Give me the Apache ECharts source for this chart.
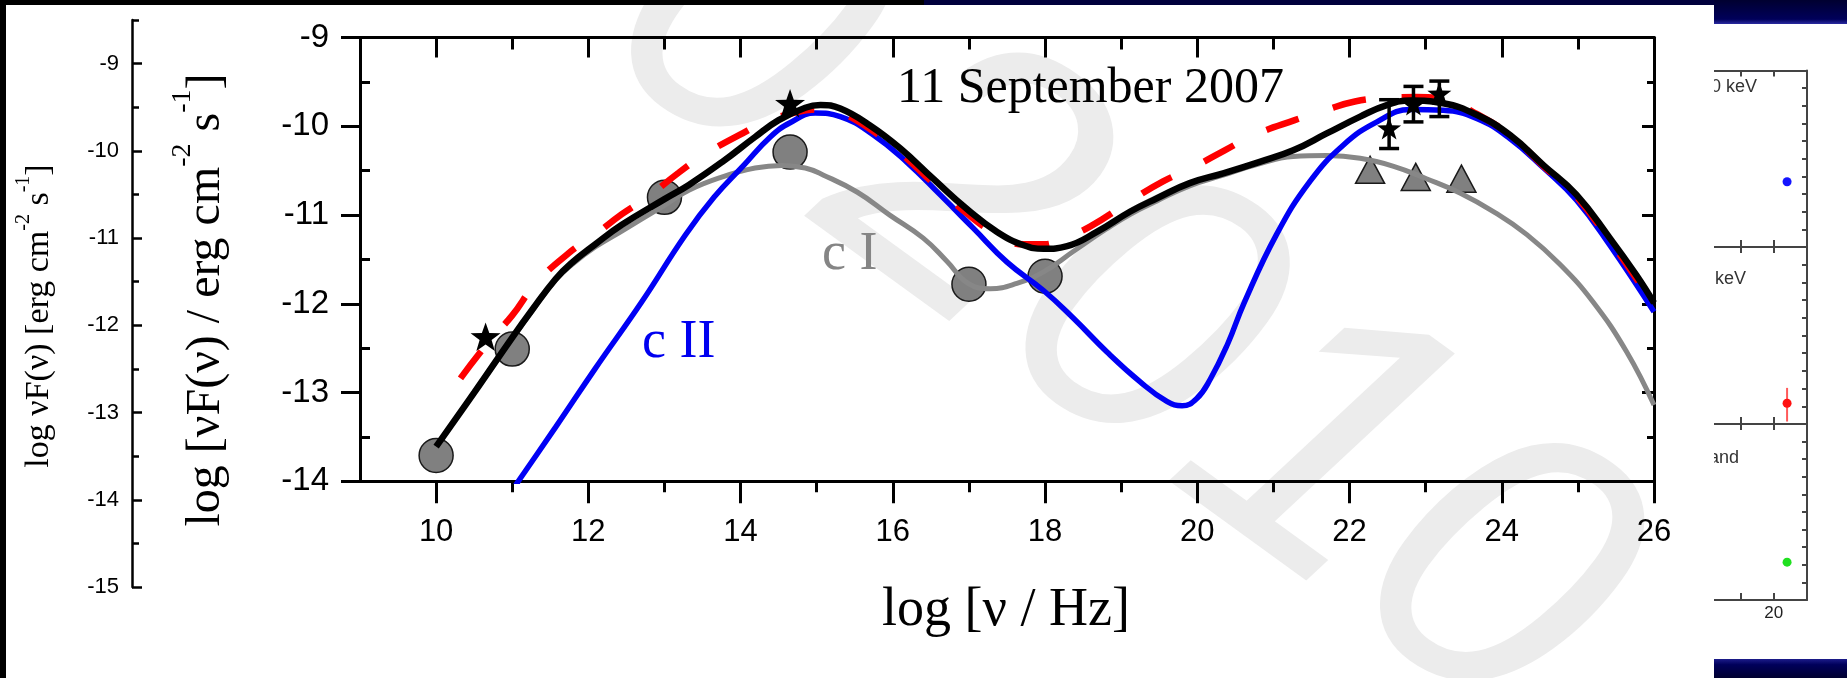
<!DOCTYPE html>
<html>
<head>
<meta charset="utf-8">
<title>SED 11 September 2007</title>
<script src="https://cdn.jsdelivr.net/npm/echarts@6/dist/echarts.min.js"></script>
<style>
html, body { margin: 0; padding: 0; background: #fff; }
#chart { width: 1847px; height: 678px; }
</style>
</head>
<body>
<div id="chart"></div>
<script>
// ---- data: x = log nu [Hz], y = log nuF(nu) ----
var totalModel = [[10.0,-13.61],[10.5,-13.0],[11.0,-12.38],[11.26,-12.07],[11.57,-11.72],[11.78,-11.54],[12.09,-11.33],[12.44,-11.11],[13.0,-10.82],[13.32,-10.66],[13.76,-10.40],[14.19,-10.12],[14.5,-9.93],[14.85,-9.79],[15.05,-9.76],[15.31,-9.80],[15.7,-9.99],[16.1,-10.25],[16.53,-10.59],[16.97,-10.93],[17.37,-11.19],[17.72,-11.34],[17.98,-11.38],[18.29,-11.35],[18.68,-11.19],[19.12,-10.96],[19.47,-10.81],[19.9,-10.64],[20.34,-10.53],[20.82,-10.40],[21.26,-10.27],[21.7,-10.08],[22.14,-9.89],[22.49,-9.76],[22.8,-9.71],[23.23,-9.74],[23.67,-9.87],[24.11,-10.1],[24.55,-10.44],[24.98,-10.77],[25.42,-11.26],[25.77,-11.68],[26.0,-11.99]];
var dashedModel = [[10.32,-12.84],[10.69,-12.43],[11.0,-12.13],[11.31,-11.77],[11.74,-11.43],[12.09,-11.22],[12.44,-10.99],[12.79,-10.79],[13.19,-10.52],[13.54,-10.31],[13.98,-10.10],[14.32,-9.95],[14.65,-9.86],[14.98,-9.81],[15.31,-9.85],[15.7,-10.03],[16.1,-10.30],[16.53,-10.64],[16.97,-10.98],[17.37,-11.22],[17.72,-11.33],[17.98,-11.33],[18.24,-11.26],[18.59,-11.13],[19.14,-10.83],[19.55,-10.62],[19.95,-10.46],[20.36,-10.27],[20.74,-10.10],[21.28,-9.93],[21.68,-9.82],[22.07,-9.72],[22.49,-9.68],[22.88,-9.67],[23.32,-9.72],[23.67,-9.86],[24.11,-10.1],[24.55,-10.45],[24.98,-10.79],[25.42,-11.29],[25.77,-11.72],[26.0,-12.03]];
var compII = [[10.9,-14.23],[11.08,-14.0],[11.57,-13.39],[12.09,-12.73],[12.7,-11.98],[13.27,-11.23],[13.65,-10.8],[14.04,-10.44],[14.39,-10.12],[14.65,-9.96],[14.98,-9.85],[15.31,-9.89],[15.75,-10.10],[16.18,-10.40],[16.62,-10.77],[17.06,-11.15],[17.5,-11.53],[17.98,-11.85],[18.37,-12.16],[18.81,-12.54],[19.25,-12.88],[19.6,-13.1],[19.8,-13.15],[19.99,-13.07],[20.17,-12.85],[20.4,-12.45],[20.61,-12.0],[21.04,-11.22],[21.48,-10.62],[21.92,-10.21],[22.36,-9.95],[22.8,-9.81],[23.23,-9.82],[23.67,-9.91],[24.11,-10.14],[24.55,-10.47],[24.98,-10.83],[25.42,-11.34],[26.0,-12.09]];
var compI = [[10.0,-13.61],[10.5,-13.0],[11.0,-12.39],[11.26,-12.08],[11.57,-11.73],[11.78,-11.56],[12.09,-11.36],[12.44,-11.18],[13.0,-10.89],[13.32,-10.72],[13.76,-10.57],[14.19,-10.47],[14.54,-10.44],[14.85,-10.47],[15.09,-10.55],[15.53,-10.74],[15.96,-11.0],[16.4,-11.26],[16.71,-11.52],[16.99,-11.77],[17.28,-11.83],[17.63,-11.77],[17.98,-11.64],[18.37,-11.41],[18.8,-11.16],[19.12,-10.99],[19.47,-10.84],[19.9,-10.67],[20.34,-10.55],[20.78,-10.43],[21.26,-10.34],[21.7,-10.33],[22.14,-10.36],[22.58,-10.45],[23.01,-10.59],[23.45,-10.75],[23.89,-10.96],[24.33,-11.22],[24.77,-11.56],[25.2,-11.98],[25.64,-12.54],[26.0,-13.14]];

var obsCircles = [[10.0,-13.71],[11.0,-12.51],[13.0,-10.80],[14.65,-10.29],[17.0,-11.78],[18.0,-11.69]];
var obsStars = [[10.65,-12.37],[14.65,-9.74]];
var obsTriangles = [[22.27,-10.49],[22.87,-10.57],[23.47,-10.59]];

// gamma-ray points with error bars
var gammaX  = [22.52, 22.84, 23.18];
var gammaY  = [-10.02, -9.75, -9.63];
var gammaLo = [-10.25, -9.95, -9.89];
var gammaHi = [-9.70, -9.55, -9.49];

// tick values
var xMajor = [10, 12, 14, 16, 18, 20, 22, 24, 26];
var xMinor = [11, 13, 15, 17, 19, 21, 23, 25];
var yMajor = [-14, -13, -12, -11, -10, -9];
var yMinor = [-13.5, -12.5, -11.5, -10.5, -9.5];
var leftMajor = [-15, -14, -13, -12, -11, -10, -9];
var leftMinor = [-14.5, -13.5, -12.5, -11.5, -10.5, -9.5, -8.5];

// cut-off panels on the right edge
var panelTicks = [19.5, 20];
var panelLabels = [20];
var panelYTicks = [1, 2, 3, 4, 5, 6, 7, 8, 9];
var panelBlue = [[20.2, 3.7]];
var panelRed = [[20.2, 1.17, 0.14, 2.04]];
var panelGreen = [[20.2, 2.15]];

var SANS = 'Liberation Sans';
var SERIF = 'Liberation Serif';
var STAR = 'path://M0,-50 L11.8,-16.2 L47.6,-15.5 L19,6.2 L29.4,40.5 L0,20 L-29.4,40.5 L-19,6.2 L-47.6,-15.5 L-11.8,-16.2 Z';

function tickAxis(grid, pos, min, max, ticks, len, inside, showLine, lineColor, lineWidth) {
    return {
        type: 'value', gridIndex: grid, position: pos, min: min, max: max,
        axisLine: { show: showLine, onZero: false, lineStyle: { color: lineColor, width: lineWidth } },
        axisTick: { show: true, inside: inside, length: len, customValues: ticks,
                    lineStyle: { color: lineColor, width: lineWidth } },
        axisLabel: { show: false },
        splitLine: { show: false },
        minorTick: { show: false }
    };
}

function errorBar(color, width, cap) {
    return function (params, api) {
        var x = api.value(0);
        var lo = api.coord([x, api.value(2)]);
        var hi = api.coord([x, api.value(3)]);
        var st = { stroke: color, lineWidth: width };
        var kids = [{ type: 'line', shape: { x1: lo[0], y1: lo[1], x2: hi[0], y2: hi[1] }, style: st }];
        if (cap > 0) {
            kids.push({ type: 'line', shape: { x1: lo[0] - cap, y1: lo[1], x2: lo[0] + cap, y2: lo[1] }, style: st });
            kids.push({ type: 'line', shape: { x1: hi[0] - cap, y1: hi[1], x2: hi[0] + cap, y2: hi[1] }, style: st });
        }
        return { type: 'group', children: kids };
    };
}

function label(text, x, y, size, family, color, align) {
    return { type: 'text', x: x, y: y, z: 10,
             style: { text: text, fontSize: size, fontFamily: family, fill: color,
                      textAlign: align, textVerticalAlign: 'middle', align: align, verticalAlign: 'middle' } };
}

function watermark(text, x, y) {
    return { type: 'text', x: x, y: y, rotation: -36 * Math.PI / 180, z: -10, silent: true,
             style: { text: text, fontSize: 394, fontFamily: SANS, fontStyle: 'italic', fill: '#ececec',
                      textAlign: 'center', textVerticalAlign: 'middle', align: 'center', verticalAlign: 'middle' } };
}

var gammaData = gammaX.map(function (x, i) { return [x, gammaY[i], gammaLo[i], gammaHi[i]]; });

// main axes
var xMain = tickAxis(0, 'bottom', 9, 26, xMajor, 22, false, true, '#000', 3);
xMain.axisLabel = { show: true, customValues: xMajor, fontSize: 31, fontFamily: SANS, color: '#000', margin: 36 };
var yMain = tickAxis(0, 'left', -14, -9, yMajor, 19, false, true, '#000', 3);
yMain.axisLabel = { show: true, customValues: yMajor, fontSize: 33, fontFamily: SANS, color: '#000', margin: 31 };
// secondary scale on the far left
var yLeft = tickAxis(1, 'left', -15, -8.5, leftMajor, 10, true, true, '#000', 2.5);
yLeft.axisLabel = { show: true, customValues: leftMajor, fontSize: 22, fontFamily: SANS, color: '#000', margin: 13 };

var xPanel3 = tickAxis(4, 'bottom', 19.1, 20.5, panelTicks, 7, true, true, '#444', 2);
xPanel3.axisLabel = { show: true, customValues: panelLabels, fontSize: 17, fontFamily: SANS, color: '#222', margin: 5 };

var navyTop = new echarts.graphic.LinearGradient(0, 0, 0, 1, [
    { offset: 0, color: '#000030' }, { offset: 0.8, color: '#00005a' }, { offset: 1, color: '#2a2aa0' }]);
var navyBottom = new echarts.graphic.LinearGradient(0, 0, 0, 1, [
    { offset: 0, color: '#1c1c8a' }, { offset: 0.3, color: '#00005a' }, { offset: 1, color: '#000030' }]);

var option = {
    backgroundColor: '#fff',
    animation: false,
    grid: [
        { left: 360, top: 37.6, width: 1294, height: 443.7, outerBoundsMode: 'none' },
        { left: 132, top: 20, width: 10, height: 567, outerBoundsMode: 'none' },
        { left: 1714, top: 70.5, width: 93, height: 176.5, outerBoundsMode: 'none' },
        { left: 1714, top: 247, width: 93, height: 177, outerBoundsMode: 'none' },
        { left: 1714, top: 424, width: 93, height: 176, outerBoundsMode: 'none' }
    ],
    xAxis: [
        xMain,
        tickAxis(0, 'bottom', 9, 26, xMinor, 11, false, false, '#000', 3),
        tickAxis(0, 'top', 9, 26, xMajor, 20, true, true, '#000', 3),
        tickAxis(0, 'top', 9, 26, xMinor, 12, true, false, '#000', 3),
        { type: 'value', gridIndex: 1, show: false, min: 0, max: 1 },
        tickAxis(2, 'bottom', 19.1, 20.5, panelTicks, 7, true, true, '#444', 2),
        tickAxis(3, 'bottom', 19.1, 20.5, panelTicks, 7, true, true, '#444', 2),
        xPanel3,
        tickAxis(2, 'top', 19.1, 20.5, panelTicks, 6, true, true, '#444', 2),
        tickAxis(3, 'top', 19.1, 20.5, panelTicks, 6, true, true, '#444', 2),
        tickAxis(4, 'top', 19.1, 20.5, panelTicks, 6, true, true, '#444', 2)
    ],
    yAxis: [
        yMain,
        tickAxis(0, 'left', -14, -9, yMinor, 10, true, false, '#000', 3),
        tickAxis(0, 'right', -14, -9, yMajor, 12, true, true, '#000', 3),
        tickAxis(0, 'right', -14, -9, yMinor, 7, true, false, '#000', 3),
        yLeft,
        tickAxis(1, 'left', -15, -8.5, leftMinor, 7, true, false, '#000', 2.5),
        tickAxis(2, 'right', 0, 10, panelYTicks, 5, true, true, '#444', 2),
        tickAxis(3, 'right', 0, 10, panelYTicks, 5, true, true, '#444', 2),
        tickAxis(4, 'right', 0, 10, panelYTicks, 5, true, true, '#444', 2)
    ],
    series: [
        { name: 'data', type: 'scatter', xAxisIndex: 0, yAxisIndex: 0, z: 1,
          symbol: 'circle', symbolSize: 34, data: obsCircles,
          itemStyle: { color: '#808080', borderColor: '#1a1a1a', borderWidth: 1.5, opacity: 1 } },
        { name: 'upper', type: 'scatter', xAxisIndex: 0, yAxisIndex: 0, z: 1,
          symbol: 'triangle', symbolSize: [29, 27], data: obsTriangles,
          itemStyle: { color: '#808080', borderColor: '#1a1a1a', borderWidth: 1.5, opacity: 1 } },
        { name: 'c I', type: 'line', xAxisIndex: 0, yAxisIndex: 0, z: 2, data: compI,
          showSymbol: false, symbol: 'none', smooth: 0.45,
          lineStyle: { color: '#878787', width: 5 } },
        { name: 'c II', type: 'line', xAxisIndex: 0, yAxisIndex: 0, z: 3, data: compII,
          showSymbol: false, symbol: 'none', smooth: 0.45,
          lineStyle: { color: '#0000f5', width: 5.5 } },
        { name: 'dashed', type: 'line', xAxisIndex: 0, yAxisIndex: 0, z: 4, data: dashedModel,
          showSymbol: false, symbol: 'none', smooth: 0.45,
          lineStyle: { color: '#ff0000', width: 6.5, type: [34, 36] } },
        { name: 'total', type: 'line', xAxisIndex: 0, yAxisIndex: 0, z: 5, data: totalModel,
          showSymbol: false, symbol: 'none', smooth: 0.45,
          lineStyle: { color: '#000', width: 6.5 } },
        { name: 'stars', type: 'scatter', xAxisIndex: 0, yAxisIndex: 0, z: 6,
          symbol: STAR, symbolSize: 30, symbolKeepAspect: true, data: obsStars,
          itemStyle: { color: '#000', opacity: 1 } },
        { name: 'gamma err', type: 'custom', xAxisIndex: 0, yAxisIndex: 0, z: 6,
          renderItem: errorBar('#000', 3.5, 10), data: gammaData },
        { name: 'gamma', type: 'scatter', xAxisIndex: 0, yAxisIndex: 0, z: 6,
          symbol: STAR, symbolSize: 24, symbolKeepAspect: true, data: gammaData,
          itemStyle: { color: '#000', opacity: 1 } },
        // right-hand cut panels
        { type: 'scatter', xAxisIndex: 5, yAxisIndex: 6, symbolSize: 9, data: panelBlue,
          itemStyle: { color: '#1414ff', opacity: 1 } },
        { type: 'custom', xAxisIndex: 6, yAxisIndex: 7, renderItem: errorBar('#ff5a5a', 2, 0), data: panelRed },
        { type: 'scatter', xAxisIndex: 6, yAxisIndex: 7, symbolSize: 9, data: panelRed,
          itemStyle: { color: '#ff1010', opacity: 1 } },
        { type: 'scatter', xAxisIndex: 7, yAxisIndex: 8, symbolSize: 9, data: panelGreen,
          itemStyle: { color: '#20e020', opacity: 1 } }
    ],
    graphic: [
        // watermark (the first glyph is mostly above the slide edge)
        watermark('0', 742, 25),
        watermark('2010', 1225, 386),
        label('11 September 2007', 897, 88.5, 50, SERIF, '#000', 'left'),
        label('c I', 822, 255, 54, SERIF, '#858585', 'left'),
        label('c II', 642, 343, 54, SERIF, '#0000f0', 'left'),
        label('log [ν / Hz]', 1006, 611, 54, SERIF, '#000', 'center'),
        { type: 'text', x: 206, y: 300, rotation: Math.PI / 2, z: 10,
          style: { text: 'log [νF(ν) / erg cm{sup|-2} s{sup|-1}]', fontSize: 48, fontFamily: SERIF, fill: '#000',
                   lineHeight: 74,
                   textAlign: 'center', textVerticalAlign: 'middle', align: 'center', verticalAlign: 'middle',
                   rich: { sup: { fontSize: 28, fontFamily: SERIF, fill: '#000', lineHeight: 30, verticalAlign: 'top' } } } },
        { type: 'text', x: 39, y: 316, rotation: Math.PI / 2, z: 10,
          style: { text: 'log νF(ν) [erg cm{sup|-2} s{sup|-1}]', fontSize: 34, fontFamily: SERIF, fill: '#000',
                   lineHeight: 50,
                   textAlign: 'center', textVerticalAlign: 'middle', align: 'center', verticalAlign: 'middle',
                   rich: { sup: { fontSize: 20, fontFamily: SERIF, fill: '#000', lineHeight: 22, verticalAlign: 'top' } } } },
        // labels of the cut panels
        label('10 keV', 1757, 87, 18, SANS, '#333', 'right'),
        label('keV', 1715, 279, 18, SANS, '#333', 'left'),
        label('and', 1709, 458, 18, SANS, '#333', 'left'),
        { type: 'rect', z: 50, silent: true, shape: { x: 1680, y: 25, width: 34, height: 634 }, style: { fill: '#fff' } },
        // slide frame
        { type: 'rect', z: 100, silent: true, shape: { x: 0, y: 0, width: 6, height: 678 }, style: { fill: '#000' } },
        { type: 'rect', z: 100, silent: true, shape: { x: 0, y: 0, width: 924, height: 5 }, style: { fill: '#000' } },
        { type: 'rect', z: 100, silent: true, shape: { x: 924, y: 0, width: 790, height: 5 }, style: { fill: '#00003c' } },
        { type: 'rect', z: 100, silent: true, shape: { x: 1714, y: 0, width: 133, height: 24 }, style: { fill: navyTop } },
        { type: 'rect', z: 100, silent: true, shape: { x: 1714, y: 659, width: 133, height: 19 }, style: { fill: navyBottom } }
    ]
};

var myChart = echarts.init(document.getElementById('chart'));
myChart.setOption(option);
</script>
</body>
</html>
